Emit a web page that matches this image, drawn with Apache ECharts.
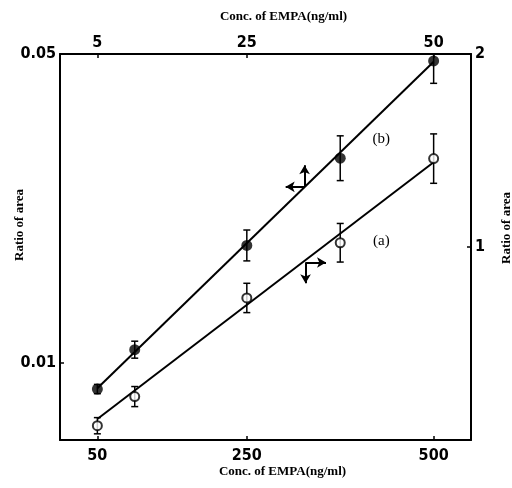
<!DOCTYPE html>
<html>
<head>
<meta charset="utf-8">
<script src="https://cdn.jsdelivr.net/npm/echarts@6/dist/echarts.min.js"></script>
<style>html,body{margin:0;padding:0;background:#fff}#c{width:512px;height:488px}</style>
</head>
<body>
<div id="c"></div>
<script>
// ---- data ----
const concBottom = [50, 100, 250, 375, 500];      // ng/ml, series (a)
const concTop = [5, 10, 25, 37.5, 50];            // ng/ml, series (b)
const ratioA = [0.074, 0.225, 0.736, 1.022, 1.458];
const errA = [0.042, 0.052, 0.076, 0.100, 0.128];
const ratioB = [0.0066, 0.0117, 0.0252, 0.0365, 0.0491];
const errB = [0.0006, 0.0011, 0.0020, 0.0029, 0.0029];
const fitAx = [50, 500];
const fitAy = [0.109, 1.439];
const fitBx = [5, 50];
const fitBy = [0.0067, 0.049];
const bottomTicks = [50, 250, 500];
const topTicks = [5, 25, 50];
const leftTicks = [0.01, 0.05];
const rightTicks = [1, 2];
const axisTitle = 'Conc. of EMPA(ng/ml)';
const yTitle = 'Ratio of area';
const labelA = '(a)';
const labelB = '(b)';

const tickFont = {fontFamily: "'DejaVu Sans Condensed','Liberation Sans',sans-serif", fontWeight: 'bold', fontSize: 16, color: '#000'};
const nameFont = {fontFamily: "'Liberation Serif','DejaVu Serif',serif", fontWeight: 'bold', fontSize: 13, color: '#000'};
const lineStyle = {color: '#000', width: 2};

function xAx(pos, max, ticks, pad, gap) {
  return {
    type: 'value', position: pos, min: 0, max: max,
    name: axisTitle, nameLocation: 'middle', nameGap: gap, nameMoveOverlap: false,
    nameTextStyle: Object.assign({padding: pad}, nameFont),
    axisLine: {show: true, onZero: false, lineStyle: lineStyle},
    axisTick: {show: true, inside: true, length: 4, customValues: ticks, lineStyle: {color: '#000', width: 1.5}},
    axisLabel: Object.assign({customValues: ticks, margin: pos === 'top' ? 3 : 8}, tickFont),
    splitLine: {show: false}
  };
}
function yAx(pos, max, ticks, fmt, pad, gap) {
  return {
    type: 'value', position: pos, min: 0, max: max,
    name: yTitle, nameLocation: 'middle', nameGap: gap, nameRotate: 90, nameMoveOverlap: false,
    nameTextStyle: Object.assign({padding: pad}, nameFont),
    axisLine: {show: true, onZero: false, lineStyle: lineStyle},
    axisTick: {show: true, inside: true, length: 4, customValues: ticks, lineStyle: {color: '#000', width: 1.5}},
    axisLabel: Object.assign({customValues: ticks, margin: 4, formatter: fmt}, tickFont),
    splitLine: {show: false}
  };
}

function errData(xs, ys, es) {
  return xs.map((x, i) => [x, ys[i] - es[i], ys[i] + es[i]]);
}
function renderErr(params, api) {
  const x = api.value(0);
  const lo = api.coord([x, api.value(1)]);
  const hi = api.coord([x, api.value(2)]);
  const w = 3.5;
  const st = {stroke: '#000', lineWidth: 1.5};
  return {type: 'group', children: [
    {type: 'line', shape: {x1: lo[0], y1: lo[1], x2: hi[0], y2: hi[1]}, style: st},
    {type: 'line', shape: {x1: lo[0] - w, y1: lo[1], x2: lo[0] + w, y2: lo[1]}, style: st},
    {type: 'line', shape: {x1: hi[0] - w, y1: hi[1], x2: hi[0] + w, y2: hi[1]}, style: st}
  ]};
}
function zip(a, b) { return a.map((v, i) => [v, b[i]]); }

const arrowLine = {color: '#000', width: 2, type: 'solid'};
function arrowML(list) {
  return {
    silent: true, symbol: ['none', 'arrow'], symbolSize: [8, 9],
    label: {show: false}, lineStyle: arrowLine, animation: false,
    data: list.map(p => [{coord: p[0]}, {coord: p[1]}])
  };
}
function textMP(txt, coord) {
  return {
    silent: true, symbol: 'circle', symbolSize: 1, itemStyle: {color: 'rgba(0,0,0,0)'},
    label: {show: true, position: 'inside', formatter: txt, color: '#000', fontFamily: "'Liberation Serif','DejaVu Serif',serif", fontSize: 15},
    data: [{coord: coord}]
  };
}

const chart = echarts.init(document.getElementById('c'), null, {renderer: 'canvas'});
chart.setOption({
  animation: false,
  backgroundColor: '#fff',
  grid: {left: 60, right: 41, top: 54, bottom: 48, containLabel: false, outerBoundsMode: 'none'},
  xAxis: [
    xAx('bottom', 550, bottomTicks, [0, 0, 0, 34], 25),
    xAx('top', 55, topTicks, [0, 0, 0, 36], 31)
  ],
  yAxis: [
    yAx('left', 0.05, leftTicks, v => v.toFixed(2), [0, 0, 0, 44], 34),
    yAx('right', 2, rightTicks, v => String(v), [0, 0, 0, 38], 29)
  ],
  series: [
    {type: 'line', name: 'fit a', xAxisIndex: 0, yAxisIndex: 1, data: zip(fitAx, fitAy), showSymbol: false, symbol: 'none', lineStyle: {color: '#000', width: 2}, z: 2,
     markLine: arrowML([[[328.6, 0.9195], [356, 0.9195]], [[328.6, 0.9195], [328.6, 0.812]]]),
     markPoint: textMP(labelA, [430, 1.0286])},
    {type: 'line', name: 'fit b', xAxisIndex: 1, yAxisIndex: 0, data: zip(fitBx, fitBy), showSymbol: false, symbol: 'none', lineStyle: {color: '#000', width: 2}, z: 2,
     markLine: arrowML([[[32.73, 0.03279], [30.2, 0.03279]], [[32.73, 0.03279], [32.73, 0.0356]]]),
     markPoint: textMP(labelB, [43.0, 0.03896])},
    {type: 'custom', name: 'err a', xAxisIndex: 0, yAxisIndex: 1, clip: true, renderItem: renderErr, data: errData(concBottom, ratioA, errA), z: 3},
    {type: 'custom', name: 'err b', xAxisIndex: 1, yAxisIndex: 0, clip: true, renderItem: renderErr, data: errData(concTop, ratioB, errB), z: 3},
    {type: 'scatter', name: '(a)', xAxisIndex: 0, yAxisIndex: 1, data: zip(concBottom, ratioA), symbol: 'circle', symbolSize: 9,
     itemStyle: {color: '#fff', borderColor: '#000', borderWidth: 2}, z: 4},
    {type: 'scatter', name: '(b)', xAxisIndex: 1, yAxisIndex: 0, data: zip(concTop, ratioB), symbol: 'circle', symbolSize: 11,
     itemStyle: {color: '#000'}, z: 4}
  ]
});
</script>
</body>
</html>
